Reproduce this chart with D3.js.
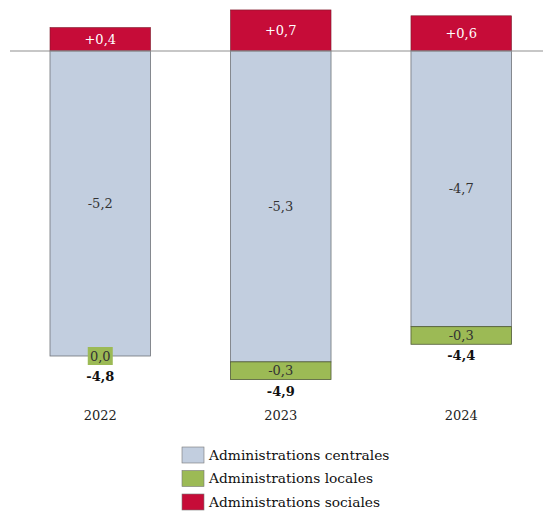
<!DOCTYPE html>
<html><head><meta charset="utf-8">
<script src="https://cdn.jsdelivr.net/npm/d3@7"></script>
<style>
html,body{margin:0;padding:0;background:#fff;}
svg{display:block;font-family:"DejaVu Serif",serif;}
</style></head>
<body>
<svg id="chart" width="543" height="511"></svg>
<script>
const years = ["2022", "2023", "2024"];
const centrales = [-5.2, -5.3, -4.7];
const locales = [0.0, -0.3, -0.3];
const sociales = [0.4, 0.7, 0.6];
const totals = [-4.8, -4.9, -4.4];
const seriesNames = ["Administrations centrales", "Administrations locales", "Administrations sociales"];
const colors = {centrales: "#c2cedf", locales: "#9cba55", sociales: "#c60c38"};

const svg = d3.select("#chart");
const fmt = v => (v > 0 ? "+" : "") + v.toFixed(1).replace(".", ",");

const x = d3.scaleBand().domain(years).range([10, 551.5]).paddingInner(0.443).paddingOuter(0.2216);
const y = d3.scaleLinear().domain([0, -5.2]).range([51, 356]);

const data = years.map((yr, i) => ({yr, c: centrales[i], l: locales[i], s: sociales[i], t: totals[i]}));

const g = svg.selectAll("g.bar").data(data).enter().append("g").attr("class", "bar");

// sociales (positive)
g.append("rect").attr("x", d => x(d.yr)).attr("width", x.bandwidth())
  .attr("y", d => y(d.s)).attr("height", d => y(0) - y(d.s))
  .attr("fill", colors.sociales).attr("stroke", "#7a1a2a").attr("stroke-width", 0.6);
// centrales
g.append("rect").attr("x", d => x(d.yr)).attr("width", x.bandwidth())
  .attr("y", y(0)).attr("height", d => y(d.c) - y(0))
  .attr("fill", colors.centrales).attr("stroke", "#6f7378").attr("stroke-width", 0.8);
// locales
g.filter(d => d.l !== 0).append("rect").attr("x", d => x(d.yr)).attr("width", x.bandwidth())
  .attr("y", d => y(d.c)).attr("height", d => y(d.c + d.l) - y(d.c))
  .attr("fill", colors.locales).attr("stroke", "#4f5a35").attr("stroke-width", 0.8);

// zero line
svg.append("line").attr("x1", 10).attr("x2", 543).attr("y1", y(0)).attr("y2", y(0))
  .attr("stroke", "#8f8f8f").attr("stroke-width", 1);

const cx = d => x(d.yr) + x.bandwidth() / 2;
const fs = 13;

// labels
g.append("text").attr("x", cx).attr("y", d => (y(0) + y(d.s)) / 2).attr("dy", "0.35em")
  .attr("text-anchor", "middle").attr("fill", "#fff").attr("font-size", fs).text(d => fmt(d.s));
g.append("text").attr("x", cx).attr("y", d => (y(0) + y(d.c)) / 2).attr("dy", "0.35em")
  .attr("text-anchor", "middle").attr("fill", "#333").attr("font-size", fs).text(d => fmt(d.c));

// zero locales label with green box
const zero = g.filter(d => d.l === 0);
zero.append("rect").attr("x", d => cx(d) - 12.5).attr("width", 25)
  .attr("y", d => y(d.c) - 9).attr("height", 18).attr("fill", colors.locales);
g.append("text").attr("x", cx).attr("y", d => (y(d.c) + y(d.c + d.l)) / 2).attr("dy", "0.35em")
  .attr("text-anchor", "middle").attr("fill", "#333").attr("font-size", fs).text(d => fmt(d.l));

// totals
g.append("text").attr("x", cx)
  .attr("y", d => (d.l === 0 ? y(d.c) + 9 : y(d.c + d.l)) + 11.5)
  .attr("dy", "0.35em").attr("text-anchor", "middle").attr("fill", "#111")
  .attr("font-weight", "bold").attr("font-size", fs).text(d => fmt(d.t));

// years
g.append("text").attr("x", cx).attr("y", 415).attr("dy", "0.35em")
  .attr("text-anchor", "middle").attr("fill", "#222").attr("font-size", fs).text(d => d.yr);

// legend
const legColors = [colors.centrales, colors.locales, colors.sociales];
const leg = svg.selectAll("g.leg").data(seriesNames).enter().append("g").attr("class", "leg")
  .attr("transform", (d, i) => `translate(182,${447 + i * 23.5})`);
leg.append("rect").attr("width", 22).attr("height", 16).attr("fill", (d, i) => legColors[i])
  .attr("stroke", "#777").attr("stroke-width", 0.6);
leg.append("text").attr("x", 27).attr("y", 8).attr("dy", "0.35em").attr("font-size", 13.8)
  .attr("fill", "#111").text(d => d);
</script>
</body></html>
